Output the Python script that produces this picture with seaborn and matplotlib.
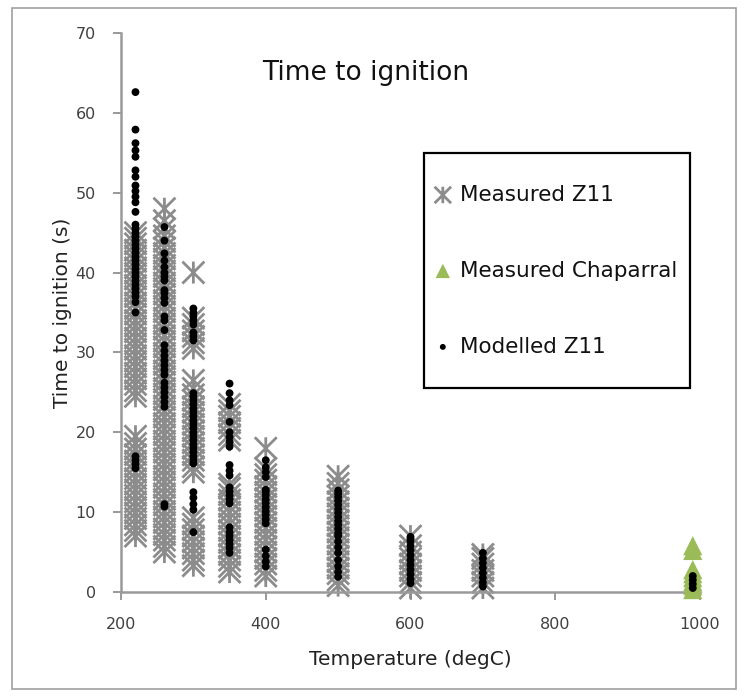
import pandas as pd
import numpy as np
import matplotlib
matplotlib.use("Agg")
import matplotlib.pyplot as plt
import seaborn as sns
from matplotlib.path import Path
from matplotlib.patches import Rectangle

# Measured Z11 - time to ignition (s) per temperature (degC)
meas_temps = [220, 260, 300, 350, 400, 500, 600, 700]
meas_220 = [7, 7.7, 8.4, 9.2, 9.9, 10.6, 11.3, 12.1, 12.8, 13.5, 14.2, 15, 15.7, 16.4, 17.2,
            17.9, 18.6, 19.5,
            24.5, 25.2, 26, 26.7, 27.4, 28.2, 28.9, 29.6, 30.4, 31.1, 31.8, 32.6, 33.3, 34,
            34.8, 35.5, 36.2, 37, 37.7, 38.4, 39.2, 39.9, 40.6, 41.4, 42.1, 42.8, 43.6, 44.3, 45]
meas_260 = [5, 5.7, 6.5, 7.2, 7.9, 8.7, 9.4, 10.1, 10.9, 11.6, 12.3, 13.1, 13.8, 14.5, 15.3,
            16, 16.7, 17.5, 18.2, 18.9, 19.7, 20.4, 21.1, 21.9, 22.6, 23.3, 24.1, 24.8, 25.5,
            26.3, 27, 27.7, 28.5, 29.2, 29.9, 30.7, 31.4, 32.1, 32.9, 33.6, 34.3, 35.1, 35.8,
            36.5, 37.3, 38, 38.7, 39.5, 40.2, 40.9, 41.7, 42.4, 43.1, 43.9, 44.6, 45.5, 46.5, 48]
meas_300 = [3.3, 4, 4.8, 5.5, 6.3, 7, 7.8, 8.5, 9.3,
            15, 15.7, 16.5, 17.2, 18, 18.7, 19.5, 20.2, 21, 21.7, 22.5, 23.2, 24, 24.7, 25.5, 26.5,
            30.5, 31.2, 32, 32.7, 33.5, 34.3, 40]
meas_350 = [2.5, 3.2, 4, 4.7, 5.5, 6.2, 7, 7.7, 8.5, 9.2, 10, 10.7, 11.5, 12.2, 13, 13.5,
            19, 19.7, 20.5, 21.2, 22, 22.7, 23.5]
meas_400 = [2, 2.7, 3.5, 4.2, 5, 5.7, 6.5, 7.2, 8, 8.7, 9.5, 10.2, 11, 11.7, 12.5, 13.2, 14,
            14.7, 15.5, 18]
meas_500 = [0.8, 1.5, 2.3, 3, 3.8, 4.5, 5.3, 6, 6.8, 7.5, 8.3, 9, 9.8, 10.5, 11.3, 12, 12.8,
            13.6, 14.5]
meas_600 = [0.5, 1.2, 2, 2.7, 3.5, 4.2, 5, 5.8, 7]
meas_700 = [0.5, 1.2, 2, 2.7, 3.5, 4.2, 4.7]
meas_vals = [meas_220, meas_260, meas_300, meas_350, meas_400, meas_500, meas_600, meas_700]

# Measured Chaparral
chap_temp = 990
chap_vals = [0.3, 0.8, 1.3, 1.8, 2.3, 2.8, 5.2, 5.8]

# Modelled Z11
mod_temps = [220, 260, 300, 350, 400, 500, 600, 700, 990]
mod_220 = [15.5, 16, 16.5, 17, 35, 36.3, 37, 37.5, 38, 38.5, 39, 39.5, 40, 40.5, 41, 41.5, 42,
           42.5, 43, 43.5, 44, 44.5, 45, 45.5, 46, 47.6, 48.8, 49.5, 50.2, 50.9, 52, 52.8,
           54.5, 55.3, 56.2, 57.9, 62.6]
mod_260 = [10.7, 11, 23.2, 23.8, 24.4, 25, 25.6, 26.2, 27.2, 27.8, 28.4, 29, 29.6, 30.2, 30.9,
           32.8, 34, 34.5, 36.2, 36.8, 37.4, 37.8, 39, 39.5, 40, 40.7, 41.5, 42.4, 44, 45.7]
mod_300 = [7.5, 10.3, 11, 11.8, 12.5, 16.1, 16.5, 17, 17.5, 18, 18.5, 19, 19.5, 20, 20.5, 21,
           21.5, 22, 22.5, 23, 23.5, 24, 24.5, 24.9, 31.5, 32, 32.5, 33.5, 34, 34.5, 35, 35.5]
mod_350 = [4.9, 5.5, 6, 6.5, 7, 7.5, 8.1, 11.1, 11.6, 12.1, 12.6, 13.1, 14.6, 15.2, 15.9, 18.2,
           18.8, 19.4, 20, 21.3, 23.4, 24, 24.9, 26.1]
mod_400 = [3.2, 3.8, 4.5, 5.3, 8.6, 9.1, 9.6, 10.1, 10.6, 11.1, 11.6, 12.1, 12.5, 12.8, 14.4,
           15, 15.6, 16.5]
mod_500 = [1.9, 2.5, 3.2, 4, 4.9, 5.6, 6.3, 7, 7.4, 7.9, 8.4, 8.9, 9.4, 9.9, 10.4, 10.9, 11.4,
           11.9, 12.3, 12.7]
mod_600 = [1.1, 1.6, 2.2, 2.8, 3.4, 4, 4.6, 5.2, 5.8, 6.4, 6.9]
mod_700 = [0.7, 1.2, 1.8, 2.4, 3, 3.6, 4.2, 4.9]
mod_990 = [0.5, 1, 1.5, 2]
mod_vals = [mod_220, mod_260, mod_300, mod_350, mod_400, mod_500, mod_600, mod_700, mod_990]

x_ticks = [200, 400, 600, 800, 1000]
y_ticks = [0, 10, 20, 30, 40, 50, 60, 70]

meas = pd.DataFrame({"Temperature": [t for t, v in zip(meas_temps, meas_vals) for _ in v],
                     "Time": [y for v in meas_vals for y in v]})
chap = pd.DataFrame({"Temperature": [chap_temp] * len(chap_vals), "Time": chap_vals})
mod = pd.DataFrame({"Temperature": [t for t, v in zip(mod_temps, mod_vals) for _ in v],
                    "Time": [y for v in mod_vals for y in v]})

# Excel style asterisk: X plus vertical bar
star = Path([(-1, -1), (1, 1), (-1, 1), (1, -1), (0, -1), (0, 1)],
            [Path.MOVETO, Path.LINETO] * 3)

sns.set_style("white")
plt.rcParams["font.family"] = ["DejaVu Sans"]

fig = plt.figure(figsize=(7.45, 6.96), dpi=100)
ax = fig.add_axes([121 / 745, 104 / 696, 579 / 745, 559 / 696])

sns.scatterplot(data=meas, x="Temperature", y="Time", marker=star, s=250, facecolor="none",
                edgecolor="#8c8c8c", linewidth=2.0, color="#8c8c8c", label="Measured Z11",
                ax=ax, clip_on=False, zorder=2)
sns.scatterplot(data=chap, x="Temperature", y="Time", marker="^", s=190, color="#9bbb59",
                edgecolor="none", label="Measured Chaparral", ax=ax, clip_on=False, zorder=3)
sns.scatterplot(data=mod, x="Temperature", y="Time", marker="o", s=32, color="black",
                edgecolor="none", label="Modelled Z11", ax=ax, clip_on=False, zorder=4)

ax.set_xlim(200, 1000)
ax.set_ylim(0, 70)
ax.set_xticks(x_ticks)
ax.set_yticks(y_ticks)
ax.tick_params(axis="both", direction="out", length=6, width=1.2, color="#888888",
               labelsize=11.5, labelcolor="#404040", pad=12, bottom=True, left=True)
for side in ["top", "right"]:
    ax.spines[side].set_visible(False)
for side in ["left", "bottom"]:
    ax.spines[side].set_color("#9a9a9a")
    ax.spines[side].set_linewidth(1.8)

ax.set_xlabel("Temperature (degC)", fontsize=14.5, color="#222222")
ax.set_ylabel("Time to ignition (s)", fontsize=14.5, color="#222222")
ax.xaxis.set_label_coords(0.5, -0.104)
ax.yaxis.set_label_coords(-0.085, 0.5)

fig.text(366 / 745, 1 - 73 / 696, "Time to ignition", fontsize=19, ha="center", va="center",
         color="#111111")

# legend box
leg = ax.legend(loc="center", bbox_to_anchor=(0.749, 0.575), frameon=False, fontsize=15.5,
                labelspacing=2.6, handlelength=1.0, handletextpad=0.3, markerscale=0.75)
for t in leg.get_texts():
    t.set_color("#111111")
ax.add_patch(Rectangle((0.523, 0.365), 0.46, 0.42, transform=ax.transAxes, fill=False,
                       edgecolor="black", linewidth=1.6, zorder=5))

# chart area border
fig.add_artist(Rectangle((12 / 745, 7 / 696), 724 / 745, 681 / 696, transform=fig.transFigure,
                         fill=False, edgecolor="#a0a0a0", linewidth=1.2))

fig.savefig("out.png", dpi=100)
